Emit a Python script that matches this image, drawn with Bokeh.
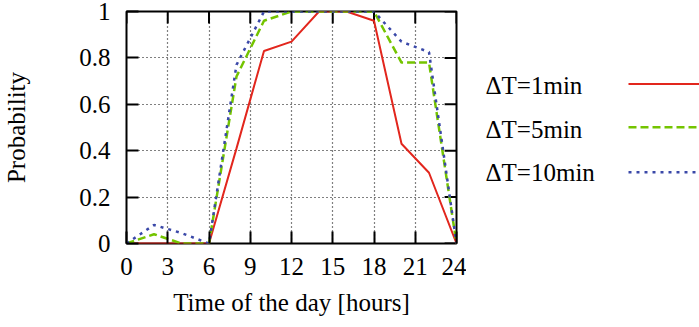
from bokeh.plotting import figure
from bokeh.layouts import row
from bokeh.models import Range1d, FixedTicker, NumeralTickFormatter, ColumnDataSource
from bokeh.core.properties import value
from bokeh.embed import file_html
from bokeh.resources import INLINE

# ---------------- data ----------------
hours = [0, 2, 4, 6, 8, 10, 12, 14, 16, 18, 20, 22, 24]
p_1min = [0, 0, 0, 0, 0.41, 0.83, 0.87, 1.0, 1.0, 0.96, 0.43, 0.305, 0]
p_5min = [0, 0.04, 0, 0, 0.72, 0.96, 1.0, 1.0, 1.0, 1.0, 0.78, 0.78, 0]
p_10min = [0, 0.08, 0.045, 0, 0.77, 1.0, 1.0, 1.0, 1.0, 1.0, 0.87, 0.825, 0]
series_labels = ["\u0394T=1min", "\u0394T=5min", "\u0394T=10min"]
x_ticks = [0, 3, 6, 9, 12, 15, 18, 21, 24]
y_ticks = [0, 0.2, 0.4, 0.6, 0.8, 1.0]
x_title = "Time of the day [hours]"
y_title = "Probability"

FONT = "Liberation Serif"
FS = "25px"
colors = ["#e2261d", "#74c400", "#3a48a8"]
dashes = ["solid", "8 4", "3 5"]
widths = [2, 2.5, 2.5]

# layout (pixels)
H = 327
MAIN_W, LEG_W = 466, 233
LEFT, TOP, BOTTOM, RIGHT = 123, 11, 84, 10
FRAME_W, FRAME_H = MAIN_W - LEFT - RIGHT, H - TOP - BOTTOM
TICK = 12

p = figure(width=MAIN_W, height=H, x_range=Range1d(0, 24), y_range=Range1d(0, 1),
           output_backend="svg", toolbar_location=None,
           min_border_left=LEFT, min_border_right=RIGHT,
           min_border_top=TOP, min_border_bottom=BOTTOM)
p.background_fill_color = "white"
p.border_fill_color = "white"
p.outline_line_color = "black"
p.outline_line_width = 2

for ax in (p.xaxis[0], p.yaxis[0]):
    ax.major_tick_in = TICK
    ax.major_tick_out = 0
    ax.minor_tick_line_color = None
    ax.axis_line_color = None
    ax.major_tick_line_color = "black"
    ax.major_tick_line_width = 2
    ax.major_label_text_font = FONT
    ax.major_label_text_font_size = FS
    ax.major_label_text_color = "black"
    ax.axis_label_text_font = FONT
    ax.axis_label_text_font_size = FS
    ax.axis_label_text_font_style = "normal"
    ax.axis_label_text_color = "black"

p.xaxis.ticker = FixedTicker(ticks=x_ticks)
p.yaxis.ticker = FixedTicker(ticks=y_ticks)
p.yaxis.formatter = NumeralTickFormatter(format="0.[0]")
p.xaxis.major_label_standoff = 14
p.yaxis.major_label_standoff = 16
p.xaxis.axis_label = x_title
p.yaxis.axis_label = y_title
p.xaxis.axis_label_standoff = 11
p.yaxis.axis_label_standoff = 46

p.xgrid.ticker = FixedTicker(ticks=x_ticks)
p.ygrid.ticker = FixedTicker(ticks=y_ticks)
for g in (p.xgrid[0], p.ygrid[0]):
    g.grid_line_color = "black"
    g.grid_line_dash = "1 3"
    g.grid_line_width = 1.2

# mirrored inner ticks on the top and right edges
xr = p.x_range.end - p.x_range.start
yr = p.y_range.end - p.y_range.start
tx = TICK * xr / FRAME_W
ty = TICK * yr / FRAME_H
p.segment(x0=x_ticks, y0=[p.y_range.end] * len(x_ticks), x1=x_ticks,
          y1=[p.y_range.end - ty] * len(x_ticks), line_color="black", line_width=2)
p.segment(x0=[p.x_range.end] * len(y_ticks), y0=y_ticks, x1=[p.x_range.end - tx] * len(y_ticks),
          y1=y_ticks, line_color="black", line_width=2)

src = ColumnDataSource(dict(h=hours, a=p_1min, b=p_5min, c=p_10min))
for col, c, d, w in zip(["a", "b", "c"], colors, dashes, widths):
    p.line("h", col, source=src, line_color=c, line_dash=d, line_width=w)

# ---------------- legend panel: label on the left, line sample on the right ----------------
lf = figure(width=LEG_W, height=H, x_range=Range1d(0, LEG_W), y_range=Range1d(0, 1),
            output_backend="svg", toolbar_location=None,
            min_border_left=0, min_border_right=0, min_border_top=TOP, min_border_bottom=BOTTOM,
            x_axis_type=None, y_axis_type=None)
lf.outline_line_color = None
lf.xgrid.visible = False
lf.ygrid.visible = False
lf.background_fill_color = "white"
lf.border_fill_color = "white"

leg_text_y = [0.681, 0.4935, 0.306]
leg_line_y = [0.688, 0.501, 0.307]
lf.text(x=[19] * 3, y=leg_text_y, text=series_labels, text_font=value(FONT), text_font_size=FS,
        text_baseline="middle", text_align="left", text_color="black")
for ly, c, d, w in zip(leg_line_y, colors, dashes, widths):
    lf.line([162, LEG_W], [ly, ly], line_color=c, line_dash=d, line_width=w)

layout = row(p, lf)
open("out.html", "w").write(file_html(layout, INLINE))
